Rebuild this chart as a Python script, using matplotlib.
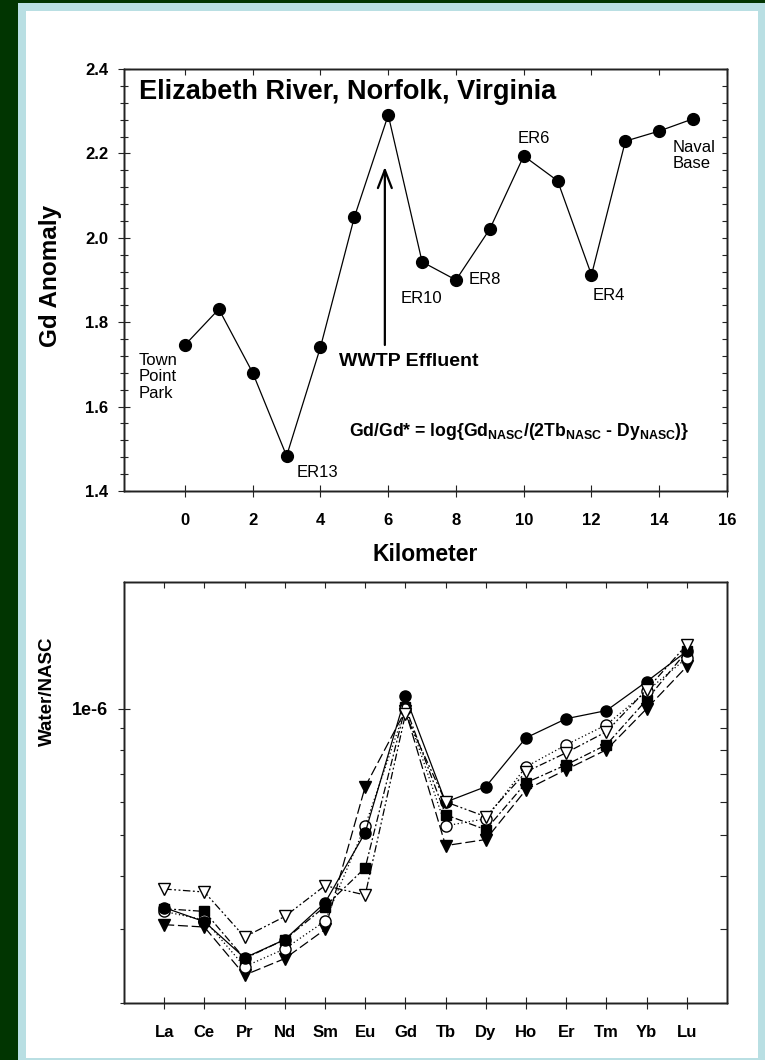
import matplotlib.pyplot as plt
import numpy as np
from matplotlib.patches import Rectangle
from matplotlib.ticker import FixedLocator, NullFormatter, MultipleLocator

plt.rcParams['font.family'] = 'Liberation Sans'
plt.rcParams['mathtext.fontset'] = 'custom'
plt.rcParams['mathtext.bf'] = 'Liberation Sans:bold'
plt.rcParams['mathtext.rm'] = 'Liberation Sans'

# top panel: Gd anomaly along the river
km = [0, 1, 2, 3, 4, 5, 6, 7, 8, 9, 10, 11, 12, 13, 14, 15]
gd_anomaly = [1.746, 1.831, 1.680, 1.483, 1.741, 2.049, 2.291, 1.943,
              1.900, 2.021, 2.194, 2.135, 1.912, 2.229, 2.253, 2.282]

site_names = ['Town\nPoint\nPark', 'ER13', 'ER10', 'ER8', 'ER6', 'ER4', 'Naval\nBase']
site_x = [-1.36, 3.30, 6.37, 8.38, 9.82, 12.04, 14.40]
site_y = [1.727, 1.443, 1.857, 1.900, 2.236, 1.864, 2.232]
site_va = ['top', 'center', 'center', 'center', 'center', 'center', 'top']

# bottom panel: NASC-normalised REE patterns
ree = ['La', 'Ce', 'Pr', 'Nd', 'Sm', 'Eu', 'Gd', 'Tb', 'Dy', 'Ho', 'Er', 'Tm', 'Yb', 'Lu']
s_filled_circle = [3.37e-7, 3.12e-7, 2.56e-7, 2.83e-7, 3.46e-7, 5.08e-7, 1.07e-6,
                   6.00e-7, 6.53e-7, 8.53e-7, 9.47e-7, 9.90e-7, 1.16e-6, 1.37e-6]
s_open_circle = [3.30e-7, 3.15e-7, 2.44e-7, 2.69e-7, 3.13e-7, 5.27e-7, 1.00e-6,
                 5.27e-7, 5.48e-7, 7.28e-7, 8.21e-7, 9.16e-7, 1.10e-6, 1.32e-6]
s_filled_tri = [3.07e-7, 3.03e-7, 2.33e-7, 2.55e-7, 2.99e-7, 6.53e-7, 0.99e-6,
                4.73e-7, 4.89e-7, 6.42e-7, 7.17e-7, 7.99e-7, 1.00e-6, 1.26e-6]
s_open_tri = [3.73e-7, 3.67e-7, 2.87e-7, 3.21e-7, 3.80e-7, 3.61e-7, 0.97e-6,
              6.01e-7, 5.54e-7, 7.08e-7, 7.86e-7, 8.82e-7, 1.11e-6, 1.42e-6]
s_square = [3.35e-7, 3.30e-7, 2.55e-7, 2.83e-7, 3.39e-7, 4.19e-7, 1.01e-6,
            5.60e-7, 5.16e-7, 6.67e-7, 7.36e-7, 8.21e-7, 1.05e-6, 1.37e-6]

W, H = 765, 1060
fig = plt.figure(figsize=(W / 100, H / 100), dpi=100, facecolor='#013501')
fig.add_artist(Rectangle((18 / W, 0), 1 - 18 / W, 1 - 3 / H, transform=fig.transFigure,
                         facecolor='#b9dfe3', edgecolor='none', zorder=-10))
fig.add_artist(Rectangle((26 / W, 2 / H), 732 / W, 1 - 13 / H, transform=fig.transFigure,
                         facecolor='white', edgecolor='none', zorder=-9))

spine_c = '#222222'


def style_axes(ax):
    for s in ax.spines.values():
        s.set_color(spine_c)
        s.set_linewidth(1.0)
    ax.set_facecolor('none')


# ---------------- top panel ----------------
ax1 = fig.add_axes([124 / W, 1 - 491 / H, 603 / W, 422 / H])
style_axes(ax1)
ax1.plot(km, gd_anomaly, '-', color='black', lw=0.9, marker='o', ms=8.5, zorder=3)
ax1.set_xlim(-1.8, 16)
ax1.set_ylim(1.4, 2.4)
ax1.set_xticks(np.arange(0, 17, 2))
ax1.set_yticks(np.arange(1.4, 2.41, 0.2))
ax1.yaxis.set_minor_locator(MultipleLocator(0.04))
ax1.yaxis.set_major_formatter(plt.FuncFormatter(lambda v, p: '%.1f' % v))
ax1.tick_params(axis='both', which='major', direction='inout', length=9, width=0.8,
                color=spine_c, labelsize=12, pad=7)
ax1.tick_params(axis='x', pad=11)
ax1.tick_params(axis='y', which='minor', direction='inout', length=5.5, width=0.8, color=spine_c)
plt.setp(ax1.get_xticklabels() + ax1.get_yticklabels(), fontweight='bold')
ax1.set_xlabel('Kilometer', fontsize=16.5, fontweight='bold')
ax1.xaxis.set_label_coords(0.5, -0.123)
ax1.set_ylabel('Gd Anomaly', fontsize=17.5, fontweight='bold')
ax1.yaxis.set_label_coords(-0.103, 0.51)

# inward ticks on the right and top
ax1r = ax1.twinx()
ax1r.set_ylim(ax1.get_ylim())
ax1r.yaxis.set_major_locator(MultipleLocator(0.04))
ax1r.yaxis.set_major_formatter(NullFormatter())
ax1r.tick_params(axis='y', direction='in', length=3.5, width=0.8, color=spine_c)
ax1t = ax1.twiny()
ax1t.set_xlim(ax1.get_xlim())
ax1t.set_xticks(np.arange(0, 17, 2))
ax1t.xaxis.set_major_formatter(NullFormatter())
ax1t.tick_params(axis='x', direction='in', length=4, width=0.8, color=spine_c)
for a in (ax1r, ax1t):
    style_axes(a)

ax1.text(-1.36, 2.328, 'Elizabeth River, Norfolk, Virginia', fontsize=19.5,
         fontweight='bold', ha='left', va='baseline')
for name, x, y, va in zip(site_names, site_x, site_y, site_va):
    ax1.text(x, y, name, fontsize=12, ha='left', va=va, linespacing=1.12)
ax1.annotate('', xy=(5.9, 2.168), xytext=(5.9, 1.746),
             arrowprops=dict(arrowstyle='->,head_length=1.3,head_width=0.5',
                             lw=1.6, color='black', shrinkA=0, shrinkB=0))
ax1.text(6.61, 1.706, 'WWTP Effluent', fontsize=14, fontweight='bold',
         ha='center', va='center')
ax1.text(4.84, 1.540,
         r'Gd/Gd* = log{Gd$_\mathbf{NASC}$/(2Tb$_\mathbf{NASC}$ - Dy$_\mathbf{NASC}$)}',
         fontsize=12.7, fontweight='bold', ha='left', va='center')

# ---------------- bottom panel ----------------
ax2 = fig.add_axes([124 / W, 1 - 1003 / H, 603 / W, 421 / H])
style_axes(ax2)
pos = np.arange(len(ree))
mk = dict(color='black', lw=0.9, ms=8, mec='black')
ax2.plot(pos, s_filled_tri, marker='v', mfc='black', ls=(0, (8, 3)), **mk)
ax2.plot(pos, s_square, marker='s', mfc='black', ls=(0, (6, 2, 1.5, 2)), ms=7,
         color='black', lw=0.9, mec='black')
ax2.plot(pos, s_open_circle, marker='o', mfc='white', ls=(0, (1, 2)), **mk)
ax2.plot(pos, s_filled_circle, marker='o', mfc='black', ls='-', **mk)
ax2.plot(pos, s_open_tri, marker='v', mfc='white', ls=(0, (6, 2, 1.5, 2, 1.5, 2)), **mk)
ax2.set_yscale('log')
ax2.set_xlim(-1, 14)
ax2.set_ylim(2e-7, 2e-6)
ax2.set_xticks(pos)
ax2.set_xticklabels(ree)
ax2.yaxis.set_major_locator(FixedLocator([1e-6]))
ax2.yaxis.set_major_formatter(plt.FuncFormatter(lambda v, p: '1e-6'))
ax2.yaxis.set_minor_locator(FixedLocator([k * 1e-7 for k in range(2, 10)]))
ax2.yaxis.set_minor_formatter(NullFormatter())
ax2.tick_params(axis='both', which='major', direction='inout', length=9, width=0.8,
                color=spine_c, labelsize=12, pad=7)
ax2.tick_params(axis='x', pad=11)
ax2.tick_params(axis='y', which='major', labelsize=13)
ax2.tick_params(axis='y', which='minor', direction='out', length=3, width=0.8, color=spine_c)
plt.setp(ax2.get_xticklabels() + ax2.get_yticklabels(), fontweight='bold')
ax2.set_ylabel('Water/NASC', fontsize=13.5, fontweight='bold')
ax2.yaxis.set_label_coords(-0.113, 0.74)

ax2r = ax2.twinx()
ax2r.set_yscale('log')
ax2r.set_ylim(ax2.get_ylim())
ax2r.yaxis.set_major_locator(FixedLocator([1e-6]))
ax2r.yaxis.set_minor_locator(FixedLocator([k * 1e-7 for k in range(2, 10)]))
ax2r.yaxis.set_major_formatter(NullFormatter())
ax2r.yaxis.set_minor_formatter(NullFormatter())
ax2r.tick_params(axis='y', which='both', direction='in', length=5, width=0.8, color=spine_c)
ax2t = ax2.twiny()
ax2t.set_xlim(ax2.get_xlim())
ax2t.set_xticks(pos)
ax2t.xaxis.set_major_formatter(NullFormatter())
ax2t.tick_params(axis='x', direction='in', length=4.5, width=0.8, color=spine_c)
for a in (ax2r, ax2t):
    style_axes(a)

fig.savefig('out.png', dpi=100, facecolor=fig.get_facecolor())
